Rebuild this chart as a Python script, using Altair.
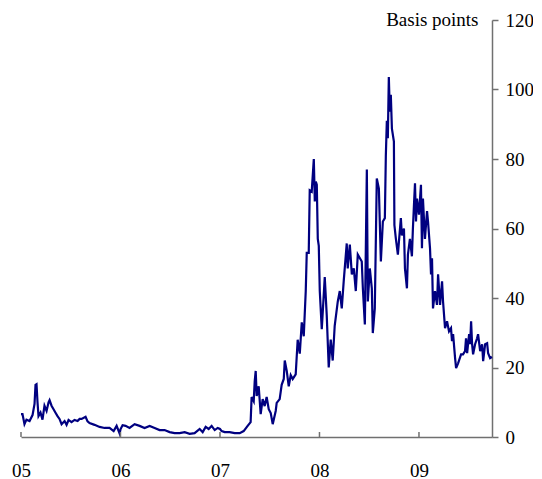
import altair as alt
import pandas as pd

# Decimal-year positions and spread values (basis points)
YEARS = [
    2005.000, 2005.015, 2005.035, 2005.055, 2005.086, 2005.116, 2005.136, 2005.146, 2005.156, 2005.166,
    2005.176, 2005.196, 2005.216, 2005.236, 2005.257, 2005.277, 2005.287, 2005.307, 2005.327, 2005.347,
    2005.367, 2005.387, 2005.408, 2005.438, 2005.458, 2005.478, 2005.508, 2005.538, 2005.569, 2005.589,
    2005.609, 2005.649, 2005.669, 2005.689, 2005.739, 2005.790, 2005.840, 2005.890, 2005.931, 2005.961,
    2005.991,
    2006.001, 2006.021, 2006.051, 2006.091, 2006.142, 2006.192, 2006.242, 2006.293, 2006.343, 2006.393,
    2006.443, 2006.494, 2006.544, 2006.594, 2006.645, 2006.695, 2006.745, 2006.796, 2006.826, 2006.856,
    2006.886, 2006.916, 2006.947, 2006.977,
    2007.000, 2007.017, 2007.047, 2007.097, 2007.148, 2007.198, 2007.238, 2007.278, 2007.308, 2007.318,
    2007.339, 2007.349, 2007.359, 2007.369, 2007.389, 2007.409, 2007.429, 2007.449, 2007.469, 2007.490,
    2007.510, 2007.530, 2007.560, 2007.570, 2007.600, 2007.620, 2007.641, 2007.651, 2007.671, 2007.691,
    2007.711, 2007.731, 2007.761, 2007.781, 2007.802, 2007.822, 2007.842, 2007.862, 2007.872, 2007.892,
    2007.902, 2007.922, 2007.943, 2007.953, 2007.963, 2007.973, 2007.983, 2007.993, 2008.003,
    2008.023, 2008.053, 2008.073, 2008.093, 2008.113, 2008.133, 2008.153, 2008.184, 2008.204, 2008.224,
    2008.244, 2008.274, 2008.284, 2008.305, 2008.325, 2008.345, 2008.365, 2008.385, 2008.425, 2008.436,
    2008.456, 2008.476, 2008.486, 2008.506, 2008.526, 2008.536, 2008.556, 2008.576, 2008.597, 2008.617,
    2008.637, 2008.657, 2008.667, 2008.677, 2008.687, 2008.697, 2008.707, 2008.717, 2008.728, 2008.748,
    2008.753, 2008.768, 2008.788, 2008.798, 2008.818, 2008.828, 2008.849, 2008.859, 2008.879, 2008.889,
    2008.909, 2008.929, 2008.939, 2008.950, 2008.960, 2008.970, 2008.980,
    2009.000, 2009.020, 2009.030, 2009.040, 2009.060, 2009.081, 2009.091, 2009.111, 2009.121, 2009.131,
    2009.141, 2009.161, 2009.181, 2009.192, 2009.212, 2009.232, 2009.242, 2009.262, 2009.282, 2009.302,
    2009.322, 2009.332, 2009.343, 2009.363, 2009.373, 2009.393, 2009.423, 2009.443, 2009.463, 2009.473,
    2009.484, 2009.504, 2009.514, 2009.524, 2009.534, 2009.544, 2009.564, 2009.584, 2009.594, 2009.615,
    2009.635, 2009.645, 2009.665, 2009.685, 2009.695, 2009.715, 2009.734,
]

BASIS_POINTS = [
    6.6, 6.6, 3.7, 5.0, 4.6, 6.3, 9.5, 15.0, 15.2, 10.0,
    6.0, 7.0, 5.0, 9.0, 7.5, 10.0, 10.6, 9.0, 8.0, 7.0,
    6.0, 5.2, 3.7, 4.6, 3.5, 4.9, 4.3, 4.9, 4.6, 5.2,
    5.2, 5.8, 4.5, 4.0, 3.5, 2.9, 2.6, 2.6, 1.7, 3.2,
    1.0,
    2.3, 3.4, 3.2, 2.6, 3.7, 3.2, 2.6, 3.2, 2.6, 2.0,
    2.0, 1.4, 1.1, 1.1, 1.4, 0.9, 1.1, 2.3, 1.4, 2.9,
    2.3, 3.2, 2.0, 2.6,
    2.3, 1.7, 1.4, 1.4, 1.1, 1.1, 1.7, 3.2, 4.3, 11.5,
    10.3, 16.0, 19.0, 11.8, 14.6, 6.6, 10.9, 8.9, 11.5, 8.0,
    6.9, 3.7, 7.5, 9.8, 10.9, 15.0, 16.7, 22.0, 19.0, 14.6,
    17.8, 16.7, 18.0, 28.0, 24.0, 33.0, 29.0, 42.0, 53.0, 53.0,
    71.0, 70.6, 80.0, 67.8, 73.5, 72.6, 57.0, 55.0, 42.0,
    31.0, 46.0, 35.0, 20.0, 28.0, 22.0, 32.0, 39.0, 42.0, 37.0,
    45.0, 55.7, 48.5, 55.4, 46.8, 48.5, 42.0, 52.5, 50.5, 42.8,
    32.4, 77.0, 39.0, 48.5, 42.8, 29.9, 37.0, 74.4, 71.5, 50.5,
    62.0, 63.0, 81.0, 91.0, 86.0, 103.6, 93.6, 98.5, 88.7, 85.0,
    61.0, 57.0, 52.5, 56.0, 63.0, 58.0, 60.0, 48.5, 42.8, 52.5,
    57.0, 52.0, 60.0, 67.0, 73.0, 62.0, 68.6,
    64.0, 72.6, 54.3, 68.6, 57.0, 65.0, 62.0, 54.3, 46.8, 51.4,
    37.0, 42.0, 38.0, 46.8, 38.0, 44.8, 39.0, 31.3, 33.3, 30.4,
    31.3, 27.6, 29.6, 22.7, 19.8, 21.2, 23.8, 23.8, 24.7, 28.4,
    24.1, 29.6, 26.7, 33.3, 26.7, 23.8, 26.7, 28.4, 29.6, 24.7,
    26.7, 21.8, 26.7, 27.0, 24.1, 22.7, 23.0,
]

TICK_YEARS = [2005, 2006, 2007, 2008, 2009]
Y_TICKS = [0, 20, 40, 60, 80, 100, 120]

df = pd.DataFrame({"year": YEARS, "bp": BASIS_POINTS})
ticks_df = pd.DataFrame({"year": TICK_YEARS})

W, H = 471, 417
FONT = "Liberation Serif"
AXIS_GREY = "#707070"

x_scale = alt.Scale(domain=[2005, 2009.734], nice=False, zero=False)
y_scale = alt.Scale(domain=[0, 120], nice=False)

line = alt.Chart(df).mark_line(color="#000080", strokeWidth=2.2).encode(
    x=alt.X(
        "year:Q",
        scale=x_scale,
        axis=alt.Axis(
            values=TICK_YEARS,
            labelExpr="substring(toString(datum.value), 2, 4)",
            title=None,
            grid=False,
            ticks=False,
            tickSize=0,
            domainColor=AXIS_GREY,
            domainWidth=1.5,
            labelPadding=24,
            labelFlush=False,
            labelFont=FONT,
            labelFontSize=19,
            labelColor="#000000",
        ),
    ),
    y=alt.Y(
        "bp:Q",
        scale=y_scale,
        axis=alt.Axis(
            orient="right",
            values=Y_TICKS,
            grid=False,
            tickSize=6,
            tickColor=AXIS_GREY,
            tickWidth=1.5,
            domainColor=AXIS_GREY,
            domainWidth=1.5,
            labelPadding=7,
            labelFlush=False,
            labelFont=FONT,
            labelFontSize=19,
            labelColor="#000000",
            title="Basis points",
            titleAngle=0,
            titleAlign="right",
            titleBaseline="alphabetic",
            titleX=-14,
            titleY=5,
            titleFont=FONT,
            titleFontSize=19,
            titleFontWeight="normal",
            titleColor="#000000",
        ),
    ),
)

xticks = alt.Chart(ticks_df).mark_rule(color=AXIS_GREY, strokeWidth=1.5).encode(
    x=alt.X("year:Q", scale=x_scale),
    y=alt.value(H - 5),
    y2=alt.value(H),
)

chart = (
    alt.layer(line, xticks)
    .properties(
        width=W,
        height=H,
        autosize=alt.AutoSizeParams(type="none"),
        padding={"left": 13, "top": 12, "right": 41, "bottom": 42},
    )
    .configure_view(strokeWidth=0)
)

chart.save("out.html", embed_options={"renderer": "svg", "actions": False})
